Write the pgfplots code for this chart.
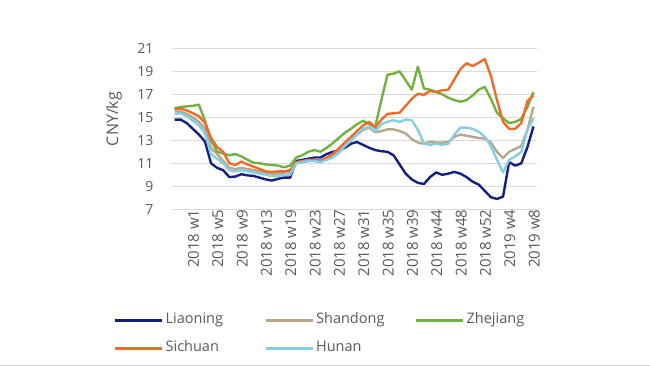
\documentclass[border=0pt]{standalone}
\usepackage{fontspec}
\setmainfont{Open Sans}
\usepackage{pgfplots}
\usepackage{pgfplotstable}
\pgfplotsset{compat=1.18}
\definecolor{cLia}{HTML}{13207F}
\definecolor{cSha}{HTML}{B8A68C}
\definecolor{cZhe}{HTML}{72B043}
\definecolor{cSic}{HTML}{EE6B28}
\definecolor{cHun}{HTML}{86CDE6}
\definecolor{cTxt}{HTML}{595959}
\definecolor{cGrid}{HTML}{D9D9D9}
\pgfplotstableread{
x L S Z Si H
0 14.8 15.5 15.8 15.7 15.3
1 14.8 15.5 15.9 15.75 15.35
2 14.5 15.3 15.95 15.6 15.1
3 14.0 15.0 16.0 15.35 14.7
4 13.5 14.6 16.1 15.1 14.3
5 12.9 14.0 14.7 14.5 13.6
6 11.0 12.3 13.0 13.2 11.8
7 10.6 11.8 12.0 12.4 11.4
8 10.4 11.2 11.85 12.0 11.0
9 9.8 10.6 11.7 11.0 10.4
10 9.85 10.5 11.8 10.85 10.3
11 10.05 10.6 11.6 11.15 10.4
12 9.95 10.5 11.3 10.9 10.3
13 9.9 10.4 11.05 10.7 10.2
14 9.75 10.3 11.0 10.5 10.1
15 9.6 10.2 10.9 10.3 10.0
16 9.5 10.1 10.85 10.25 9.9
17 9.65 10.1 10.8 10.3 9.9
18 9.75 10.2 10.65 10.3 10.0
19 9.75 10.2 10.8 10.4 10.0
20 11.2 11.0 11.5 11.1 11.0
21 11.3 11.1 11.7 11.2 11.1
22 11.4 11.2 12.0 11.3 11.2
23 11.5 11.3 12.15 11.3 11.2
24 11.5 11.3 12.0 11.2 11.1
25 11.8 11.4 12.35 11.5 11.3
26 12.0 11.6 12.75 11.8 11.5
27 12.1 12.0 13.2 12.3 11.9
28 12.35 12.5 13.65 12.8 12.5
29 12.7 13.0 14.0 13.3 13.0
30 12.85 13.5 14.4 13.8 13.5
31 12.6 13.9 14.7 14.3 14.0
32 12.35 14.1 14.4 14.6 14.2
33 12.15 13.7 14.2 14.1 13.8
34 12.05 13.8 16.5 14.8 14.4
35 12.0 13.95 18.7 15.3 14.6
36 11.7 13.95 18.8 15.35 14.75
37 10.9 13.8 19.0 15.4 14.6
38 10.1 13.6 18.2 16.0 14.8
39 9.6 13.1 17.4 16.6 14.75
40 9.3 12.8 19.4 17.05 13.9
41 9.2 12.7 17.5 16.95 12.7
42 9.8 12.85 17.4 17.3 12.6
43 10.2 12.8 17.2 17.2 12.7
44 10.0 12.8 17.0 17.35 12.6
45 10.1 12.85 16.7 17.4 12.7
46 10.25 13.3 16.5 18.3 13.5
47 10.1 13.5 16.35 19.2 14.1
48 9.8 13.4 16.5 19.7 14.1
49 9.4 13.3 16.9 19.45 14.0
50 9.15 13.2 17.4 19.75 13.75
51 8.6 13.15 17.65 20.05 13.3
52 8.05 12.8 16.6 18.6 12.5
53 7.9 12.0 15.4 16.5 11.3
54 8.1 11.45 14.9 14.6 10.2
55 11.1 12.0 14.5 14.0 11.3
56 10.8 12.25 14.6 14.0 11.6
57 11.0 12.5 14.85 14.5 12.0
58 12.4 13.9 15.9 16.4 13.9
59 14.2 15.9 17.2 16.9 14.9
}\datatable
\begin{document}
\begin{tikzpicture}[font=\fontsize{14pt}{16pt}\selectfont]
\useasboundingbox (0,0) rectangle (650pt,366pt);
\draw[gray!40, line width=0.8pt] (0,1pt) -- (650pt,1pt);
\begin{axis}[
  scale only axis,
  width=365pt, height=161pt,
  anchor=south west, at={(171.5pt,156.7pt)},
  xmin=-0.5, xmax=59.5, ymin=7, ymax=21,
  ytick={7,9,...,21},
  xtick={0,4,...,56},
  xticklabels={2018 w1,2018 w5,2018 w9,2018 w13,2018 w19,2018 w23,2018 w27,2018 w31,2018 w35,2018 w39,2018 w44,2018 w48,2018 w52,2019 w4,2019 w8},
  /pgf/number format/assume math mode=true,
  axis line style={draw=none},
  major tick length=0pt,
  ymajorgrids,
  grid style={cGrid, line width=0.9pt},
  tick label style={text=cTxt, inner sep=0pt},
  yticklabel style={anchor=east, xshift=-18pt},
  xticklabel style={rotate=90, anchor=east, yshift=-19pt, font=\fontsize{15pt}{17pt}\selectfont},
  ylabel={CNY/kg},
  ylabel style={at={(axis description cs:-0.1575,0.561)}, anchor=center, text=cTxt, inner sep=0pt, font=\fontsize{16pt}{18pt}\selectfont},
  legend columns=3,
  legend style={draw=none, fill=none, at={(axis description cs:-0.1673,-0.6235)}, anchor=north west,
    row sep=11pt, text=cTxt, font=\fontsize{14.5pt}{17pt}\selectfont,
    nodes={text width=96.5pt, align=left, inner sep=2pt, text height=10pt, text depth=3pt}},
  legend image code/.code={\draw[#1, line width=3pt] (0pt,0pt) -- (47pt,0pt);},
  every axis plot/.append style={line width=2.4pt, line join=round, mark=none},
]
\addplot[cLia] table[x=x, y=L] {\datatable};
\addlegendentry{Liaoning}
\addplot[cSha] table[x=x, y=S] {\datatable};
\addlegendentry{Shandong}
\addplot[cZhe] table[x=x, y=Z] {\datatable};
\addlegendentry{Zhejiang}
\addplot[cSic] table[x=x, y=Si] {\datatable};
\addlegendentry{Sichuan}
\addplot[cHun] table[x=x, y=H] {\datatable};
\addlegendentry{Hunan}
\end{axis}
\end{tikzpicture}
\end{document}
